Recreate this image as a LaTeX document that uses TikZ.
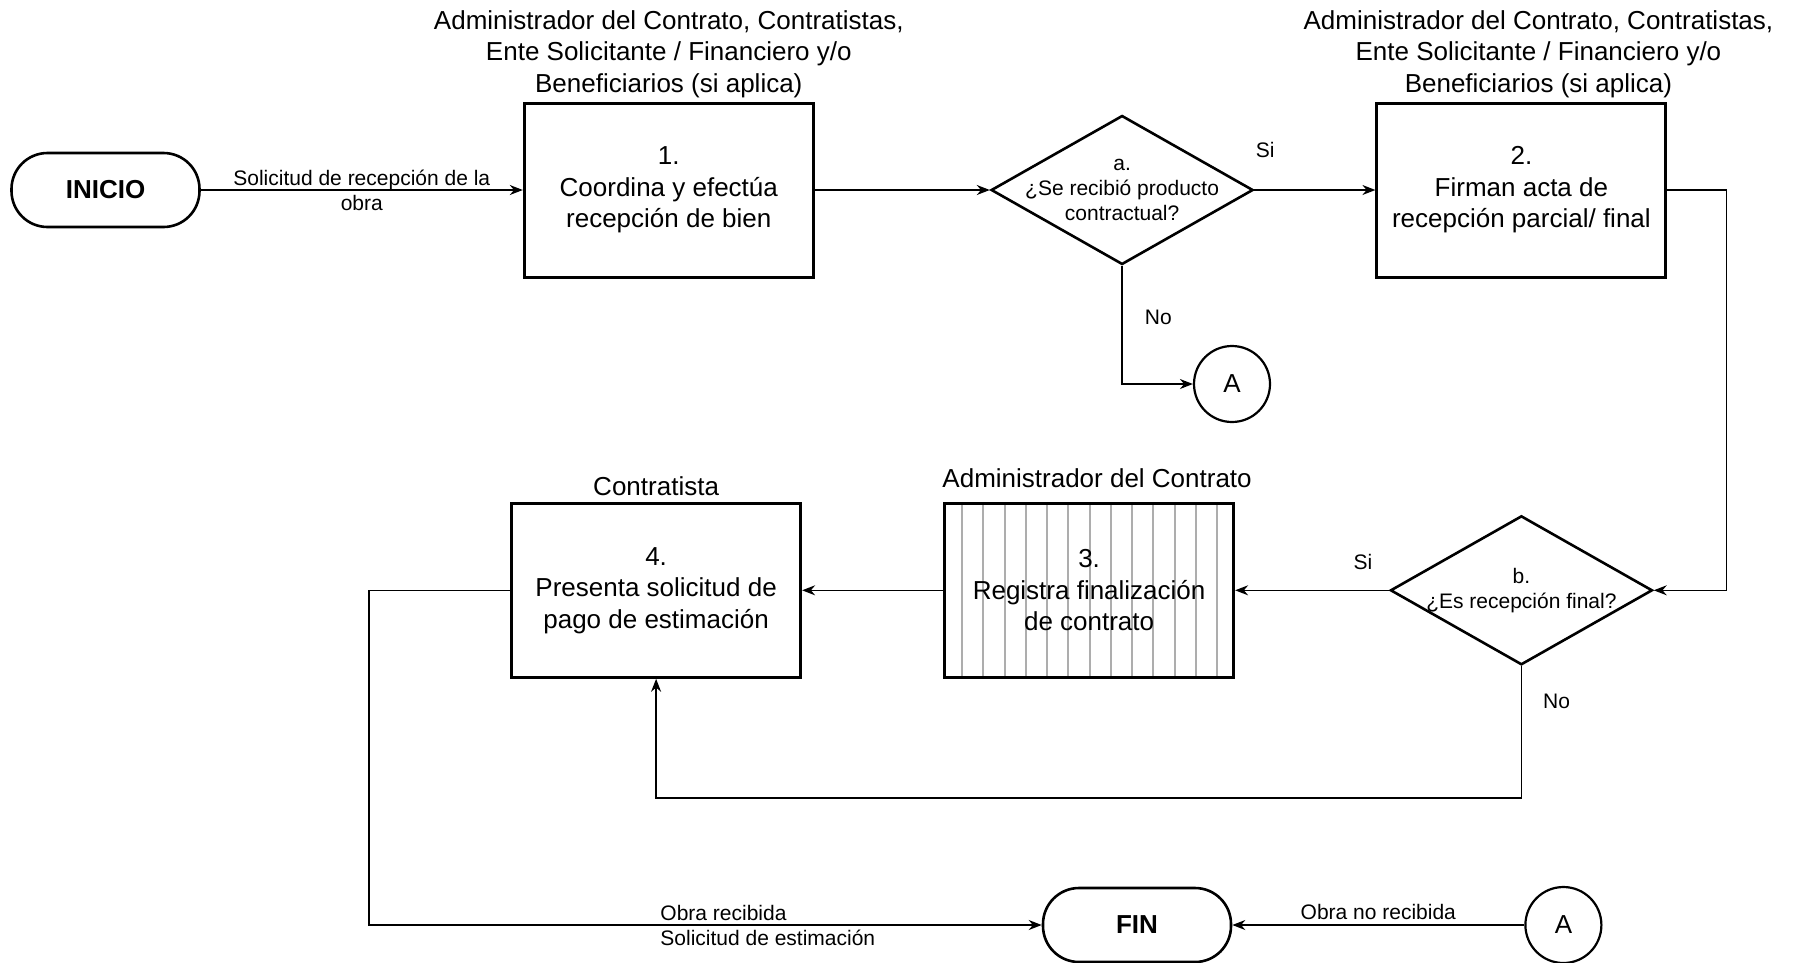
\documentclass[tikz,border=0pt]{standalone}
\usepackage{fontspec}
\setmainfont{Liberation Sans}
\usetikzlibrary{shapes.geometric, arrows.meta, positioning, calc, backgrounds}
\newcommand{\bigtxt}{\fontsize{26}{31.5}\selectfont}
\newcommand{\smalltxt}{\fontsize{21}{25}\selectfont}
\tikzset{
	terminal/.style ={rectangle, rounded corners=36pt, minimum width=188pt, minimum height=74pt, draw=black, line width=2.6pt, font=\bigtxt\bfseries},
	process/.style  ={rectangle, minimum width=289pt, minimum height=174pt, text centered, align=center, draw=black, line width=3pt, font=\bigtxt},
	decision/.style ={diamond, aspect=1.76, minimum width=262pt, minimum height=149pt, inner xsep=-40pt, inner ysep=-10pt, text centered, align=center, draw=black, line width=2.6pt, font=\smalltxt},
	offpage/.style  ={circle, minimum size=76pt, inner sep=0pt, draw=black, line width=2.2pt, font=\bigtxt},
	role/.style     ={align=center, inner sep=0pt, font=\bigtxt},
	elabel/.style   ={inner sep=0pt, font=\smalltxt},
	flowarrow/.style={-{Stealth[length=13pt, width=10pt]}, line width=1.5pt},
	stripe/.style   ={black!32, line width=2pt},
}
\begin{document}
\begin{tikzpicture}[x=1pt, y=-1pt]
	\useasboundingbox (0,0) rectangle (1801,962);
	% upper row
	\node[terminal] (inicio) at (105.5,190) {INICIO};
	\node[process, right=322pt of inicio] (b1) {1.\\Coordina y efectúa\\recepción de bien};
	\node[decision, right=175pt of b1] (dA) {a.\\¿Se recibió producto\\contractual?};
	\node[process, right=121pt of dA] (b2) {2.\\Firman acta de\\recepción parcial/ final};
	\node[offpage] (cA1) at (1232,384) {A};
	\node[role, above=3.5pt of b1] (h1) {Administrador del Contrato, Contratistas,\\Ente Solicitante / Financiero y/o\\Beneficiarios (si aplica)};
	\node[role, above=3.5pt of b2, xshift=17pt] (h2) {Administrador del Contrato, Contratistas,\\Ente Solicitante / Financiero y/o\\Beneficiarios (si aplica)};
	% lower row
	\node[decision, below=236pt of b2] (dB) {b.\\¿Es recepción final?};
	\node[process, left=154pt of dB] (b3) {3.\\Registra finalización\\de contrato};
	\node[process, left=141pt of b3] (b4) {4.\\Presenta solicitud de\\pago de estimación};
	\node[role, above=14pt of b3, xshift=8pt] (h3) {Administrador del Contrato};
	\node[role, above=6pt of b4] (h4) {Contratista};
	\begin{scope}[on background layer]
		\foreach \k in {0,...,12}
			\draw[stripe] ([xshift=19pt+21.25pt*\k]b3.north west) -- ([xshift=19pt+21.25pt*\k]b3.south west);
	\end{scope}
	% end
	\node[terminal] (fin) at (1137,925) {FIN};
	\node[offpage, right=292pt of fin] (cA2) {A};
	% connectors
	\draw[flowarrow] (inicio) -- node[elabel, align=center] {Solicitud de recepción de la\\obra} (b1);
	\draw[flowarrow] (b1) -- (dA);
	\draw[flowarrow] (dA) -- node[elabel, pos=0.09, above=32pt] {Si} (b2);
	\draw[flowarrow] (dA.south) |- node[elabel, pos=0.22, right=22pt] {No} (cA1);
	\draw[flowarrow] (b2.east) -- ++(59,0) |- (dB.east);
	\draw[flowarrow] (dB) -- node[elabel, pos=0.17, above=20pt] {Si} (b3);
	\draw[flowarrow] (b3) -- (b4);
	\draw[flowarrow] (dB.south) -- node[elabel, pos=0.27, right=21pt] {No} ++(0,132) -| (b4.south);
	\draw[flowarrow] (b4.west) -- ++(-141,0) |- node[elabel, pos=0.716, anchor=west, align=left] {Obra recibida\\Solicitud de estimación} (fin.west);
	\draw[flowarrow] (cA2) -- node[elabel, above=5pt] {Obra no recibida} (fin);
\end{tikzpicture}
\end{document}
